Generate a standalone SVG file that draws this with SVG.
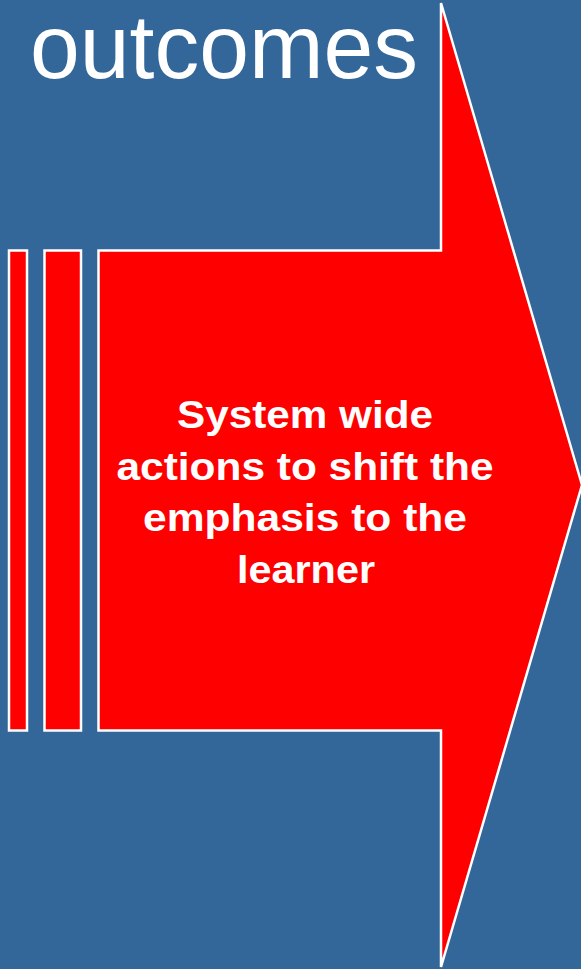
<svg xmlns="http://www.w3.org/2000/svg" width="581" height="969" viewBox="0 0 581 969">
<style>
.shape{fill:#ff0000;stroke:#ffffff;stroke-width:2.5}
.title{font-family:"Liberation Sans",Arial,sans-serif;fill:#ffffff;font-size:90px}
.body{font-family:"Liberation Sans",Arial,sans-serif;fill:#ffffff;font-size:38px;font-weight:bold;text-anchor:middle}
</style>
<rect x="0" y="0" width="581" height="969" fill="#346799"/>
<g id="title">
<text class="title" x="30" y="78" textLength="388" lengthAdjust="spacingAndGlyphs">outcomes</text>
</g>
<g id="strip1"><rect class="shape" x="9" y="250.5" width="18" height="480"/></g>
<g id="strip2"><rect class="shape" x="44.5" y="250.5" width="36.5" height="480"/></g>
<g id="arrow">
<polygon class="shape" points="98.5,250.5 441,250.5 441,3 582,485 441,967 441,730.5 98.5,730.5"/>
<text class="body" x="305" y="428" textLength="256" lengthAdjust="spacingAndGlyphs">System wide</text>
<text class="body" x="305" y="480" textLength="377" lengthAdjust="spacingAndGlyphs">actions to shift the</text>
<text class="body" x="305" y="531" textLength="324" lengthAdjust="spacingAndGlyphs">emphasis to the</text>
<text class="body" x="306" y="583" textLength="138" lengthAdjust="spacingAndGlyphs">learner</text>
</g>
</svg>
